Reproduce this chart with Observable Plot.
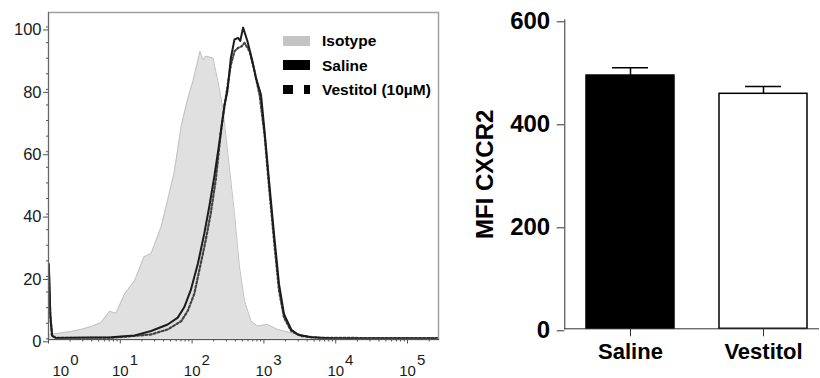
<!DOCTYPE html>
<html><head><meta charset="utf-8">
<script src="https://cdn.jsdelivr.net/npm/d3@7"></script>
<script src="https://cdn.jsdelivr.net/npm/@observablehq/plot@0.6"></script>
<style>
body{margin:0;background:#fff;overflow:hidden}
#wrap{position:relative;width:820px;height:378px;font-family:"Liberation Sans",Arial,sans-serif;background:#fff}
#left{position:absolute;left:0;top:0;width:450px}
#right{position:absolute;left:450px;top:0;width:370px}
#legend{position:absolute;left:283px;top:29px}
#legend .row{display:flex;align-items:center;height:24.3px}
#legend .sw{display:inline-block;width:27px;height:10px;margin-right:12px}
#legend .lbl{font-weight:bold;font-size:15.5px;color:#000;line-height:1}
</style></head><body>
<div id="wrap"><div id="left"></div><div id="right"></div><div id="legend"></div></div>
<script>
// ---------- Histogram data (x as log10 of fluorescence, y as % of max) ----------
const isoLog = [0.01,0.08,0.30,0.45,0.60,0.73,0.85,0.94,1.06,1.20,1.33,1.43,1.57,1.66,1.75,1.85,1.94,2.01,2.11,2.15,2.19,2.29,2.36,2.43,2.49,2.59,2.66,2.73,2.82,2.91,3.05,3.19,3.38,3.56,3.75,4.2,5.0,5.43];
const isoPct = [1.4,1.6,2.3,3.0,4.0,5.2,8.8,8.2,14.4,18.7,26.3,27.4,36.0,44.6,53.3,68.4,77.1,82.5,92.2,89.5,90.6,90.1,82.5,73.8,60.9,40.3,23.0,12.2,5.7,4.1,4.6,3.0,1.9,0.9,0.3,0.2,0.1,0.1];
const salLog = [0.005,0.025,0.05,0.10,0.87,1.20,1.43,1.66,1.80,1.89,1.98,2.08,2.17,2.24,2.31,2.38,2.45,2.49,2.54,2.59,2.64,2.67,2.71,2.77,2.84,2.89,2.96,3.01,3.07,3.14,3.21,3.28,3.38,3.47,3.65,3.98,5.43];
const salPct = [24,8,1.0,0.3,0.5,1.1,2.5,4.6,6.8,10.1,15.5,24.1,33.8,42.5,52.2,63.0,74.9,79.2,90.1,96.0,96.5,95.5,99.8,95.5,89.0,83.6,78.2,66.3,51.1,33.8,17.6,7.9,3.0,1.4,0.5,0.1,0.1];
const vesLog = [0.005,0.025,0.05,0.10,0.87,1.43,1.66,1.85,1.94,2.03,2.12,2.19,2.26,2.33,2.40,2.46,2.54,2.59,2.64,2.69,2.73,2.80,2.87,2.94,3.01,3.07,3.14,3.21,3.28,3.38,3.52,3.79,5.43];
const vesPct = [22,7,1.0,0.3,0.3,1.4,3.0,5.7,9.0,14.4,24.1,31.7,40.3,51.1,66.3,76.0,87.9,92.2,93.3,93.8,94.9,92.2,85.7,78.2,65.2,49.0,31.7,15.5,6.8,2.5,0.9,0.3,0.2];
const seriesNames = ["Isotype","Saline","Vestitol (10µM)"];
const histYTicks = [0,20,40,60,80,100];
const histXDecades = [0,1,2,3,4,5];

// ---------- Bar chart data ----------
const groups = ["Saline","Vestitol"];
const means = [491.8,456.3];
const sems = [15.0,14.2];
const barFills = ["#000000","#ffffff"];
const barYTicks = [0,200,400,600];
const barYLabel = "MFI CXCR2";

const FONT = "'Liberation Sans', Arial, sans-serif";
const toRows = (L,P) => L.map((l,i)=>({x:10**l, y:P[i]}));
const iso = toRows(isoLog, isoPct), sal = toRows(salLog, salPct), ves = toRows(vesLog, vesPct);

const xDomain = [1, 2.7e5];
const yDomain = [-0.22, 104.65];
const xMinor = [];
for (const d of histXDecades) for (let k=2;k<=9;k++){const v=k*10**d; if(v<=xDomain[1]) xMinor.push(v);}
const yMinor = d3.range(0, 105, 5);

const left = Plot.plot({
  width:450, height:378, marginLeft:48, marginRight:12, marginTop:12, marginBottom:39,
  x:{type:"log", domain:xDomain, label:null},
  y:{domain:yDomain, label:null},
  style:{fontFamily:FONT, color:"#222", background:"white", overflow:"visible"},
  marks:[
    Plot.areaY(iso,{x:"x", y:"y", fill:"#e0e0e0", clip:true}),
    Plot.lineY(iso,{x:"x", y:"y", stroke:"#c2c2c2", strokeWidth:1, clip:true}),
    Plot.lineY(ves,{x:"x", y:"y", stroke:"#444", strokeWidth:2.2, strokeDasharray:"2,2.2", clip:true}),
    Plot.lineY(sal,{x:"x", y:"y", stroke:"#1c1c1c", strokeWidth:2, clip:true}),
    Plot.frame({stroke:"#a0a0a0", strokeWidth:1.5}),
    Plot.frame({anchor:"left", stroke:"#666", strokeWidth:1}),
    Plot.frame({anchor:"bottom", stroke:"#555", strokeWidth:1.2}),
    Plot.axisY(yMinor,{tickSize:2, tickFormat:()=>"", stroke:"#555"}),
    Plot.axisY(histYTicks,{tickSize:5, tickPadding:2, dy:3, fontSize:16.5, stroke:"#555", fill:"#1a1a1a"}),
    Plot.axisX(xMinor,{tickSize:2.5, tickFormat:()=>"", stroke:"#555"}),
    Plot.axisX(histXDecades.map(d=>10**d),{tickSize:4.5, tickPadding:21, fontSize:15, stroke:"#555", fill:"#1a1a1a",
      tickFormat:d=>String(Math.round(Math.log10(d)))})
  ]
});
document.getElementById("left").append(left);

// font sizes + superscript exponents on the log axis
const NS = "http://www.w3.org/2000/svg";
left.querySelectorAll("text").forEach(t=>{
  const g = t.closest("g");
  const lab = (g && g.getAttribute("aria-label")) || "";
  const e = t.textContent;
  if (lab.startsWith("x")) {
    t.style.fontSize = "15px";
    if (!e) return;
    t.textContent = "";
    const a = document.createElementNS(NS,"tspan"); a.textContent = "10";
    const b = document.createElementNS(NS,"tspan"); b.textContent = e; b.setAttribute("dy","-0.68em"); b.setAttribute("dx","1");
    t.append(a,b);
    t.setAttribute("text-anchor","start");
    t.setAttribute("dx", e==="0" ? "4" : "-8.3");
  } else {
    t.style.fontSize = "16.5px";
  }
});

// legend
const legend = document.getElementById("legend");
const swStyles = [
  "background:#c4c4c4",
  "background:#000",
  "background:linear-gradient(to right,#000 0 10px,transparent 10px 21px,#000 21px 27px);height:9px"
];
seriesNames.forEach((n,i)=>{
  const row = document.createElement("div"); row.className="row";
  const sw = document.createElement("span"); sw.className="sw"; sw.setAttribute("style", swStyles[i]);
  const lb = document.createElement("span"); lb.className="lbl"; lb.textContent = n;
  row.append(sw, lb); legend.append(row);
});

// ---------- Bar chart ----------
const bars = groups.map((g,i)=>({group:g, mean:means[i], sem:sems[i], fill:barFills[i]}));
const right = Plot.plot({
  width:370, height:378, marginLeft:114.3, marginRight:2, marginTop:19.3, marginBottom:49.7,
  x:{domain:groups, paddingInner:0.337, paddingOuter:0.122, align:0.67, label:null},
  y:{domain:[0,600], label:null},
  color:{type:"identity"},
  style:{fontFamily:FONT, fontWeight:"bold", color:"#000", background:"white", overflow:"visible"},
  marks:[
    Plot.barY(bars,{x:"group", y:"mean", fill:"fill", stroke:"#000", strokeWidth:1.5}),
    Plot.ruleX(bars,{x:"group", y1:"mean", y2:d=>d.mean+d.sem, stroke:"#000", strokeWidth:1.5}),
    Plot.tickY(bars,{x:"group", y:d=>d.mean+d.sem, insetLeft:26, insetRight:26, stroke:"#000", strokeWidth:1.5}),
    Plot.frame({anchor:"left", stroke:"#333", strokeWidth:1}),
    Plot.frame({anchor:"bottom", stroke:"#333", strokeWidth:1}),
    Plot.axisY(barYTicks,{tickSize:7.6, tickPadding:7, fontSize:24, dy:2, stroke:"#333",
      label:barYLabel, labelAnchor:"center", labelArrow:"none", labelOffset:89}),
    Plot.axisX({tickSize:8, tickPadding:7, fontSize:22, stroke:"#333"})
  ]
});
document.getElementById("right").append(right);
</script>
</body></html>
